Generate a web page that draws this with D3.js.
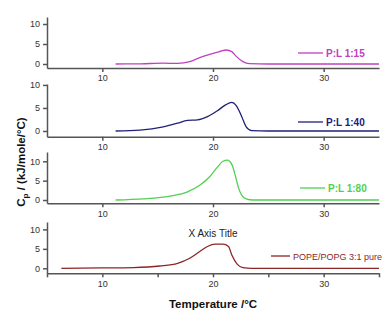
<!DOCTYPE html>
<html>
<head>
<meta charset="utf-8">
<title>DSC thermograms</title>
<style>
  body { margin: 0; background: #fff; }
  svg { font-family: "Liberation Sans", Arial, sans-serif; }
  .axis path, .axis line { stroke: #555; stroke-width: 1.5px; }
  .axis text { fill: #333; font-size: 9px; }
</style>
</head>
<body>
<svg width="392" height="326"></svg>
<script src="https://d3js.org/d3.v7.min.js"></script>
<script>
// temperatures (degC) and Cp values (kJ/mole/degC)
const t15 = [11.2, 13.5, 15.5, 16.8, 17.9, 18.8, 19.7, 20.6, 21.2, 21.7, 22.1, 22.7, 23.3, 25, 30, 35];
const cp15 = [0, 0.05, 0.2, 0.15, 0.6, 1.6, 2.4, 3.1, 3.5, 3.1, 1.9, 0.6, 0.1, 0, 0, 0];

const t40 = [11.2, 13.4, 15.5, 16.8, 17.7, 18.6, 19.5, 20.4, 21.1, 21.7, 22.1, 22.6, 23.0, 23.5, 25, 30, 35];
const cp40 = [0, 0.2, 0.9, 1.7, 2.3, 2.4, 3.1, 4.4, 5.6, 6.2, 5.5, 3.1, 0.9, 0.1, 0, 0, 0];

const t80 = [11.2, 13.7, 16.1, 17.7, 18.8, 19.7, 20.4, 20.9, 21.3, 21.7, 22.0, 22.3, 22.6, 23.0, 23.6, 30, 35];
const cp80 = [0, 0.3, 1.0, 2.1, 3.8, 6.0, 8.5, 10.0, 10.3, 9.2, 6.5, 3.2, 1.2, 0.3, 0, 0, 0];

const tPure = [6.3, 9.8, 12.8, 15.2, 16.8, 17.9, 18.8, 19.5, 20.2, 20.9, 21.4, 21.7, 22.2, 22.7, 23.5, 30, 35];
const cpPure = [0, 0.1, 0.2, 0.6, 1.3, 2.6, 4.3, 5.6, 6.2, 6.2, 5.6, 3.4, 1.0, 0.2, 0, 0, 0];

const labels = ["P:L 1:15", "P:L 1:40", "P:L 1:80", "POPE/POPG 3:1 pure"];
const colors = ["#c040c0", "#20207a", "#50d050", "#8b2626"];
const yTicks = [0, 5, 10];
const xMajor = [10, 20, 30];
const xAll = [5, 10, 15, 20, 25, 30, 35];

const series = [
  {t: t15, cp: cp15},
  {t: t40, cp: cp40},
  {t: t80, cp: cp80},
  {t: tPure, cp: cpPure}
];

// panel layout: top of y axis, x axis line, y domain
const panels = [
  {top: 17, bottom: 68, ymin: -1, ymax: 11.75, legY: 53, legX: 298, bold: true},
  {top: 84, bottom: 136.7, ymin: -1.24, ymax: 10.2, legY: 122, legX: 298, bold: true},
  {top: 152, bottom: 203.3, ymin: -0.85, ymax: 12.4, legY: 188, legX: 300, bold: true},
  {top: 222, bottom: 273.3, ymin: -1.28, ymax: 11.9, legY: 256, legX: 271, bold: false}
];

const svg = d3.select("svg");
const x = d3.scaleLinear().domain([5, 35]).range([47, 379]);

panels.forEach(function(p, i) {
  const y = d3.scaleLinear().domain([p.ymin, p.ymax]).range([p.bottom, p.top]);
  const g = svg.append("g");

  const last = i === panels.length - 1;
  g.append("g")
    .attr("class", "axis")
    .attr("transform", "translate(0," + p.bottom + ")")
    .call(d3.axisBottom(x)
      .tickValues(last ? xAll : xMajor)
      .tickFormat(function(d) { return xMajor.indexOf(d) >= 0 ? d : ""; })
      .tickSize(4).tickSizeOuter(0).tickPadding(3));

  g.append("g")
    .attr("class", "axis")
    .attr("transform", "translate(47,0)")
    .call(d3.axisLeft(y).tickValues(yTicks).tickSize(4).tickSizeOuter(0).tickPadding(3));

  const s = series[i];
  const pts = s.t.map(function(t, k) { return [t, s.cp[k]]; });
  const line = d3.line()
    .x(function(d) { return x(d[0]); })
    .y(function(d) { return y(d[1]); })
    .curve(d3.curveMonotoneX);

  g.append("path")
    .datum(pts)
    .attr("fill", "none")
    .attr("stroke", colors[i])
    .attr("stroke-width", 1.3)
    .attr("d", line);

  // legend
  const lw = last ? 19 : 25;
  g.append("line")
    .attr("x1", p.legX).attr("x2", p.legX + lw)
    .attr("y1", p.legY).attr("y2", p.legY)
    .attr("stroke", colors[i]).attr("stroke-width", 1.3);
  g.append("text")
    .attr("x", p.legX + lw + 3)
    .attr("y", p.legY + 3.5)
    .attr("fill", colors[i])
    .attr("font-size", last ? "9px" : "10px")
    .attr("font-weight", p.bold ? "bold" : "normal")
    .text(labels[i]);
});

svg.append("text")
  .attr("x", 213).attr("y", 237)
  .attr("text-anchor", "middle")
  .attr("font-size", "10px")
  .attr("fill", "#222")
  .text("X Axis Title");

svg.append("text")
  .attr("x", 213).attr("y", 308)
  .attr("text-anchor", "middle")
  .attr("font-size", "11.5px")
  .attr("font-weight", "bold")
  .attr("fill", "#111")
  .text("Temperature /°C");

const yt = svg.append("text")
  .attr("transform", "translate(25,162) rotate(-90)")
  .attr("text-anchor", "middle")
  .attr("font-size", "11.5px")
  .attr("font-weight", "bold")
  .attr("fill", "#111");
yt.append("tspan").text("C");
yt.append("tspan").attr("dy", 3).attr("font-size", "8px").text("p");
yt.append("tspan").attr("dy", -3).text(" / (kJ/mole/°C)");
</script>
</body>
</html>
